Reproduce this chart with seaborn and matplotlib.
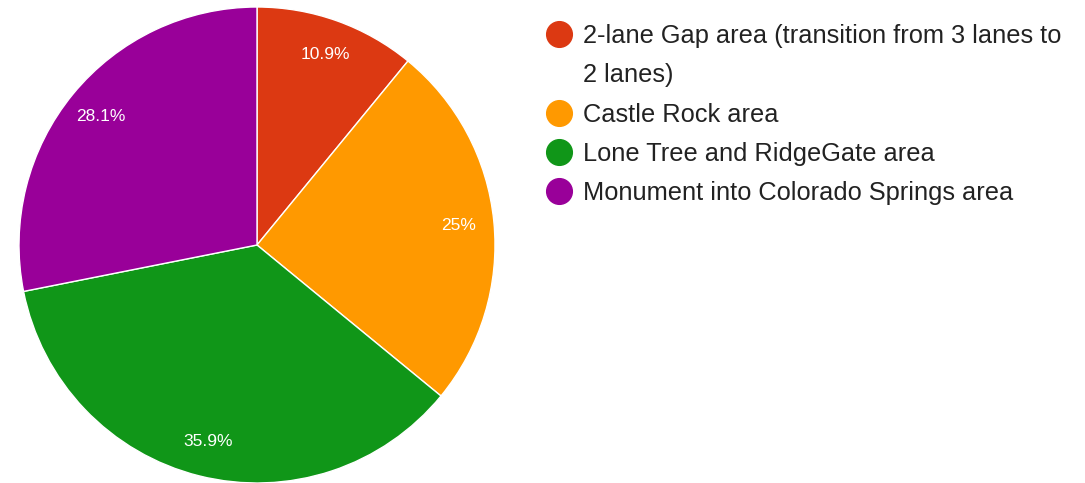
import matplotlib
matplotlib.use('Agg')
import seaborn as sns
from matplotlib import pyplot as plt
from matplotlib.lines import Line2D

# Survey responses per area (counts give 10.9 / 25 / 35.9 / 28.1 %)
areas = ['2-lane Gap area (transition from 3 lanes to\n2 lanes)',
         'Castle Rock area',
         'Lone Tree and RidgeGate area',
         'Monument into Colorado Springs area']
responses = [7, 16, 23, 18]
slice_colors = ['#DC3912', '#FF9900', '#109618', '#990099']

sns.set_theme(style='white')
plt.rcParams['font.family'] = ['Liberation Sans', 'DejaVu Sans']
palette = sns.color_palette(slice_colors)

fig = plt.figure(figsize=(10.85, 4.83), dpi=100)
# pie centred at ~(257, 245) px with radius ~238 px
ax = fig.add_axes([19 / 1085, 0 / 483, 476 / 1085, 476 / 483])


def fmt_pct(p):
    s = f'{p:.1f}'
    if s.endswith('.0'):
        s = s[:-2]
    return s + '%'


wedges, texts, autotexts = ax.pie(
    responses, colors=palette, startangle=90, counterclock=False,
    autopct=fmt_pct, pctdistance=0.85, radius=1,
    wedgeprops=dict(edgecolor='white', linewidth=1),
    textprops=dict(color='white', fontsize=12.5))
ax.set_xlim(-1, 1)
ax.set_ylim(-1, 1)
ax.set_aspect('equal')
ax.axis('off')

# legend: wrapped label lines become their own rows, marker only on the first
leg_handles, leg_labels = [], []
for name, c in zip(areas, palette):
    for k, line in enumerate(name.split('\n')):
        leg_handles.append(Line2D([], [], marker='o', linestyle='none',
                                  markersize=18.5, markerfacecolor=c,
                                  markeredgecolor=c, alpha=1 if k == 0 else 0))
        leg_labels.append(line)

fs = 18.3
hl = 1.0
handle_cx = 559
text_x = 583
leg_left = handle_cx - hl * fs * 100 / 72 / 2
pad = (text_x - (leg_left + hl * fs * 100 / 72)) / (fs * 100 / 72)
leg = fig.legend(leg_handles, leg_labels, loc='upper left',
                 bbox_to_anchor=(leg_left / 1085, 1 - 24 / 483),
                 frameon=False, fontsize=fs, handlelength=hl,
                 handletextpad=pad, labelspacing=0.6, borderaxespad=0,
                 borderpad=0, labelcolor='#222222')

fig.savefig('out.png', dpi=100)
